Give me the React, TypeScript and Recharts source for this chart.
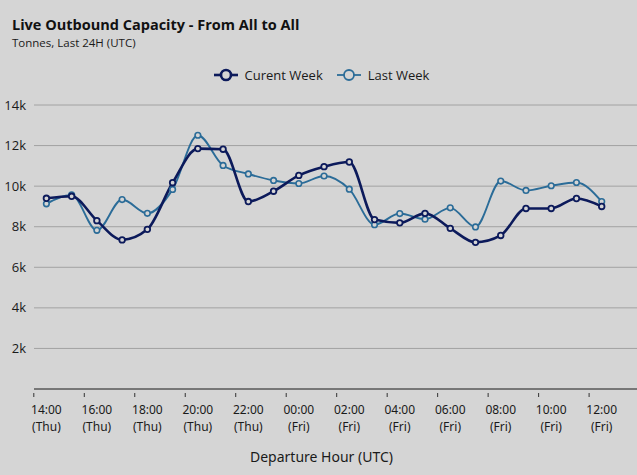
import { LineChart, Line, XAxis, YAxis, CartesianGrid } from "recharts";

// hourly departures, Thu 14:00 -> Fri 12:00
const hours = [
  "14:00", "15:00", "16:00", "17:00", "18:00", "19:00", "20:00", "21:00",
  "22:00", "23:00", "00:00", "01:00", "02:00", "03:00", "04:00", "05:00",
  "06:00", "07:00", "08:00", "09:00", "10:00", "11:00", "12:00",
];
const days = [
  "Thu", "Thu", "Thu", "Thu", "Thu", "Thu", "Thu", "Thu", "Thu", "Thu",
  "Fri", "Fri", "Fri", "Fri", "Fri", "Fri", "Fri", "Fri", "Fri", "Fri",
  "Fri", "Fri", "Fri",
];
const currentWeek = [
  9400, 9500, 8300, 7350, 7870, 10170, 11850, 11820, 9240, 9750, 10530, 10960,
  11190, 8350, 8190, 8660, 7920, 7230, 7570, 8900, 8900, 9390, 9000,
];
const lastWeek = [
  9130, 9570, 7820, 9340, 8660, 9840, 12510, 11020, 10600, 10280, 10130, 10500,
  9850, 8100, 8650, 8370, 8930, 7990, 10250, 9790, 10020, 10180, 9240,
];
const yTicks = [0, 2000, 4000, 6000, 8000, 10000, 12000, 14000];

const BG = "#d5d5d5";
const CURRENT_COLOR = "#0c1a5b";
const LAST_COLOR = "#2b6c98";
const TEXT = "#1a1a1a";

const series = [
  { key: "current", name: "Curent Week", color: CURRENT_COLOR, width: 2.6 },
  { key: "last", name: "Last Week", color: LAST_COLOR, width: 1.8 },
];

const data = hours.map((h, i) => ({
  label: `${h} (${days[i]})`,
  current: currentWeek[i],
  last: lastWeek[i],
}));

// ticks sit half a category to the left of each label
const HALF_STEP = 12.6;

const HourTick = (props: any) => {
  const { x, y, payload } = props;
  const [time, day] = String(payload.value).split(" ");
  return (
    <g>
      <line x1={x - HALF_STEP} x2={x - HALF_STEP} y1={y - 4} y2={y} stroke="#333" strokeWidth={1} />
      <text x={x} y={y + 17} textAnchor="middle" fill={TEXT} fontSize={12} fontFamily="Noto Sans">
        <tspan x={x}>{time}</tspan>
        <tspan x={x} dy={16.5}>{day}</tspan>
      </text>
    </g>
  );
};

const ChartLegend = () => (
  <div
    style={{
      position: "absolute",
      top: 66,
      left: 0,
      width: 637,
      display: "flex",
      justifyContent: "center",
      paddingLeft: 20,
      boxSizing: "border-box",
    }}
  >
    {series.map((s) => (
      <div key={s.key} style={{ display: "flex", alignItems: "center", marginRight: 14 }}>
        <svg width={24} height={16} style={{ marginRight: 7 }}>
          <line x1={0} x2={24} y1={8} y2={8} stroke={s.color} strokeWidth={s.width} />
          <circle cx={12} cy={8} r={5} fill={BG} stroke={s.color} strokeWidth={s.width} />
        </svg>
        <span style={{ fontSize: 13, color: TEXT }}>{s.name}</span>
      </div>
    ))}
  </div>
);

export default function App() {
  return (
    <div
      style={{
        position: "absolute",
        left: 0,
        top: 0,
        width: 637,
        height: 475,
        background: BG,
        overflow: "hidden",
        fontFamily: "Open Sans",
      }}
    >
      <div style={{ position: "absolute", left: 12, top: 15, fontSize: 14.5, fontWeight: 700, color: "#111" }}>
        Live Outbound Capacity - From All to All
      </div>
      <div style={{ position: "absolute", left: 12, top: 35, fontSize: 11.5, color: TEXT }}>
        Tonnes, Last 24H (UTC)
      </div>
      <ChartLegend />
      <div
        style={{
          position: "absolute",
          left: 0,
          width: 637,
          top: 447,
          textAlign: "center",
          fontSize: 14,
          color: TEXT,
          fontFamily: "Noto Sans",
          paddingLeft: 6,
          boxSizing: "border-box",
        }}
      >
        Departure Hour (UTC)
      </div>
      <LineChart
        width={637}
        height={475}
        data={data}
        margin={{ top: 105, right: 0, bottom: 26, left: 0 }}
        style={{ position: "absolute", left: 0, top: 0 }}
      >
        <CartesianGrid vertical={false} stroke="#a2a2a2" strokeWidth={1} />
        <XAxis
          dataKey="label"
          interval={1}
          height={60}
          padding={{ left: 12.4, right: 35.3 }}
          axisLine={{ stroke: "#333", strokeWidth: 1 }}
          tickLine={false}
          tick={<HourTick />}
        />
        <YAxis
          width={34}
          domain={[0, 14000]}
          ticks={yTicks}
          interval={0}
          axisLine={false}
          tickLine={false}
          tickFormatter={(v: number) => (v === 0 ? "" : `${v / 1000}k`)}
          tick={{ fill: TEXT, fontSize: 13, fontFamily: "Open Sans" }}
        />
        <Line
          type="monotone"
          dataKey="last"
          name="Last Week"
          stroke={LAST_COLOR}
          strokeWidth={1.9}
          dot={{ r: 2.8, fill: BG, stroke: LAST_COLOR, strokeWidth: 1.6 }}
          activeDot={false}
          isAnimationActive={false}
        />
        <Line
          type="monotone"
          dataKey="current"
          name="Curent Week"
          stroke={CURRENT_COLOR}
          strokeWidth={2.6}
          dot={{ r: 2.8, fill: BG, stroke: CURRENT_COLOR, strokeWidth: 1.8 }}
          activeDot={false}
          isAnimationActive={false}
        />
      </LineChart>
    </div>
  );
}
